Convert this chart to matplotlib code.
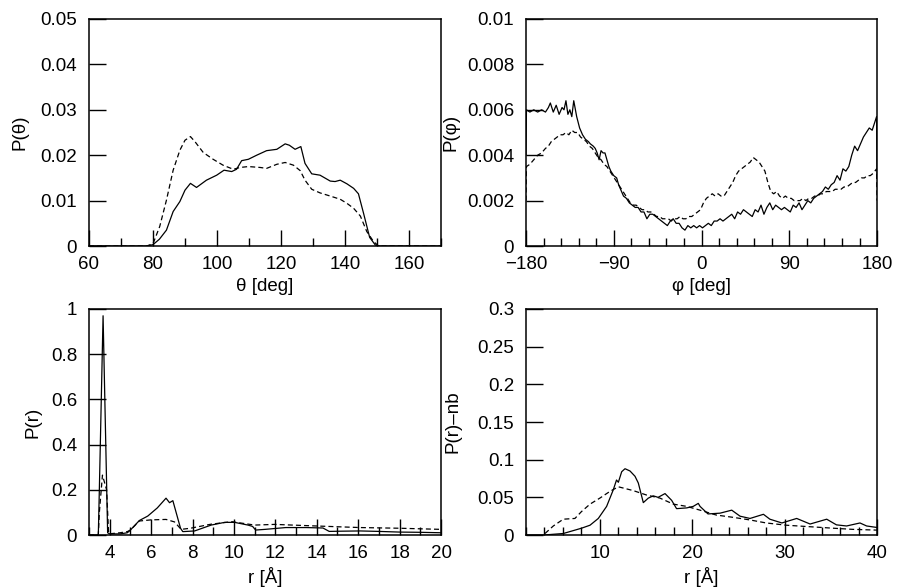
import matplotlib
matplotlib.use("Agg")
import matplotlib.pyplot as plt
from matplotlib.ticker import MultipleLocator, FuncFormatter

plt.rcParams["font.family"] = ["Liberation Sans", "DejaVu Sans"]
plt.rcParams["font.size"] = 13.5

# --- P(theta) ---
theta_solid = [60, 78, 80, 82, 84.2, 86.3, 88.4, 90, 91.7, 93.6, 96.7, 99.9, 102.2, 104.6,
               106.1, 107.7, 109.8, 112.4, 115.5, 118.7, 121.3, 122.6, 124.4, 126.2, 127.5,
               129.6, 132.2, 135.4, 136.9, 138.5, 140.6, 142.7, 144.2, 145.8, 147.7, 149.5,
               151, 170]
p_theta_solid = [0, 0, 0.0003, 0.0015, 0.0035, 0.0076, 0.0098, 0.0123, 0.0138, 0.0129, 0.0145,
                 0.0156, 0.0167, 0.0164, 0.0169, 0.0188, 0.0191, 0.0200, 0.0210, 0.0213, 0.0225,
                 0.0222, 0.0213, 0.0219, 0.0182, 0.0159, 0.0156, 0.0143, 0.0142, 0.0145, 0.0137,
                 0.0127, 0.0115, 0.0072, 0.0019, 0.0002, 0, 0]
theta_dash = [60, 78, 80, 82.1, 84.2, 86.3, 88.4, 90, 91.7, 93.1, 95.7, 98.8, 101.9, 105.1,
              107.2, 109.8, 113.5, 115.5, 118.7, 121.3, 123.9, 126, 127.5, 129.6, 132.2, 135.4,
              138.5, 140.6, 142.7, 144.8, 146.8, 148.9, 150.5, 170]
p_theta_dash = [0, 0, 0.0005, 0.0043, 0.0101, 0.0167, 0.0211, 0.0233, 0.0241, 0.0230, 0.0206,
                0.0191, 0.0178, 0.0169, 0.0173, 0.0175, 0.0173, 0.0171, 0.0180, 0.0184, 0.0178,
                0.0166, 0.0145, 0.0125, 0.0117, 0.0110, 0.0103, 0.0094, 0.0083, 0.0066, 0.0032,
                0.0010, 0, 0]

# --- P(phi) ---
phi_solid = [-180, -179.5, -176, -172, -168, -164, -160, -157, -155, -152, -149, -146, -143,
             -141, -139, -137, -135, -133, -131, -128, -125, -122, -119, -116, -114, -111,
             -109, -107, -105, -103, -101, -99, -97, -95, -93, -90, -87, -85, -83, -80, -77,
             -74, -71, -68, -65, -62, -59, -56, -53, -50, -47, -44, -41, -38, -35, -32, -29,
             -26, -23, -20, -17, -14, -11, -8, -5, -2, 1, 4, 7, 10, 13, 16, 19, 22, 25, 28,
             31, 34, 37, 40, 43, 46, 49, 52, 55, 58, 61, 64, 67, 70, 73, 76, 79, 82, 85, 88,
             91, 94, 97, 100, 103, 106, 109, 112, 115, 118, 121, 124, 127, 130, 133, 136, 139,
             142, 145, 148, 151, 154, 157, 160, 163, 166, 169, 172, 175, 178, 179.5, 180]
p_phi_solid = [0.0040, 0.0060, 0.0059, 0.0060, 0.0059, 0.0060, 0.0059, 0.0061, 0.0063, 0.0059,
               0.0062, 0.0058, 0.0061, 0.0060, 0.0064, 0.0058, 0.0060, 0.0057, 0.0064, 0.0057,
               0.0052, 0.0049, 0.0047, 0.0046, 0.0045, 0.0044, 0.0043, 0.0041, 0.0038, 0.0042,
               0.0041, 0.0041, 0.0038, 0.0035, 0.0033, 0.0031, 0.0030, 0.0027, 0.0025, 0.0022,
               0.0021, 0.0019, 0.0018, 0.0017, 0.0017, 0.0015, 0.0015, 0.0012, 0.0014, 0.0014,
               0.0013, 0.0012, 0.0011, 0.0010, 0.0009, 0.0011, 0.0012, 0.0010, 0.0010, 0.0008,
               0.0007, 0.0009, 0.0008, 0.0009, 0.0008, 0.0009, 0.0008, 0.0009, 0.0010, 0.0009,
               0.0011, 0.0011, 0.0012, 0.0011, 0.0012, 0.0013, 0.0014, 0.0012, 0.0015, 0.0014,
               0.0016, 0.0015, 0.0014, 0.0013, 0.0016, 0.0015, 0.0018, 0.0014, 0.0017, 0.0019,
               0.0016, 0.0018, 0.0017, 0.0016, 0.0017, 0.0016, 0.0015, 0.0018, 0.0017, 0.0019,
               0.0016, 0.0018, 0.0020, 0.0019, 0.0021, 0.0022, 0.0023, 0.0024, 0.0026, 0.0025,
               0.0027, 0.0028, 0.0031, 0.0029, 0.0034, 0.0033, 0.0035, 0.0040, 0.0044, 0.0042,
               0.0045, 0.0048, 0.0050, 0.0052, 0.0051, 0.0055, 0.0057, 0.0030]
phi_dash = [-180, -179.5, -176, -172, -168, -164, -160, -157, -154, -151, -148, -145, -142,
            -139, -136, -133, -130, -127, -124, -121, -118, -115, -112, -109, -106, -103, -100,
            -97, -94, -91, -88, -85, -82, -79, -76, -73, -70, -67, -64, -61, -58, -55, -52,
            -49, -46, -43, -40, -37, -34, -31, -28, -25, -22, -19, -16, -13, -10, -7, -4, -1,
            2, 5, 8, 11, 14, 17, 20, 23, 26, 29, 32, 35, 38, 41, 44, 47, 50, 53, 56, 59, 62,
            65, 68, 71, 74, 77, 80, 83, 86, 89, 92, 95, 98, 101, 104, 107, 110, 113, 116, 119,
            122, 125, 128, 131, 134, 137, 140, 143, 146, 149, 152, 155, 158, 161, 164, 167,
            170, 173, 176, 179.5, 180]
p_phi_dash = [0.0020, 0.0035, 0.0036, 0.0038, 0.0040, 0.0041, 0.0043, 0.0044, 0.0046, 0.0047,
              0.0048, 0.0049, 0.0049, 0.0050, 0.0049, 0.0051, 0.0050, 0.0050, 0.0048, 0.0047,
              0.0046, 0.0044, 0.0043, 0.0041, 0.0039, 0.0038, 0.0036, 0.0035, 0.0033, 0.0031,
              0.0029, 0.0027, 0.0025, 0.0023, 0.0021, 0.0019, 0.0018, 0.0018, 0.0017, 0.0016,
              0.0016, 0.0015, 0.0015, 0.0014, 0.0013, 0.0013, 0.0012, 0.0012, 0.0012, 0.0011,
              0.0012, 0.0012, 0.0013, 0.0012, 0.0012, 0.0013, 0.0013, 0.0014, 0.0015, 0.0016,
              0.0019, 0.0021, 0.0022, 0.0023, 0.0022, 0.0023, 0.0022, 0.0022, 0.0024, 0.0026,
              0.0028, 0.0031, 0.0033, 0.0034, 0.0035, 0.0036, 0.0037, 0.0039, 0.0038, 0.0037,
              0.0035, 0.0033, 0.0028, 0.0024, 0.0023, 0.0024, 0.0022, 0.0021, 0.0022, 0.0021,
              0.0021, 0.0020, 0.0020, 0.0020, 0.0021, 0.0020, 0.0021, 0.0021, 0.0022, 0.0022,
              0.0023, 0.0023, 0.0024, 0.0024, 0.0024, 0.0025, 0.0025, 0.0025, 0.0026, 0.0026,
              0.0027, 0.0028, 0.0028, 0.0029, 0.0030, 0.0030, 0.0031, 0.0031, 0.0032, 0.0034,
              0.0020]

# --- P(r) ---
r_solid = [3.0, 3.45, 3.5, 3.68, 3.9, 4.0, 4.5, 4.85, 5.0, 5.43, 5.84, 6.3, 6.72, 6.89, 7.05,
           7.42, 7.53, 8.1, 8.9, 9.55, 10.03, 10.68, 10.9, 11.05, 11.5, 12.5, 13.5, 14.3,
           14.6, 15.2, 16.1, 17.0, 18.0, 19.0, 20.0]
p_r_solid = [0, 0, 0.2, 0.97, 0.01, 0.005, 0.005, 0.01, 0.022, 0.064, 0.084, 0.12, 0.163,
             0.143, 0.152, 0.03, 0.015, 0.018, 0.044, 0.056, 0.056, 0.044, 0.038, 0.022, 0.025,
             0.033, 0.033, 0.031, 0.016, 0.017, 0.018, 0.016, 0.013, 0.012, 0.010]
r_dash = [3.0, 3.45, 3.5, 3.65, 3.85, 3.95, 4.5, 4.85, 5.0, 5.43, 6.0, 6.72, 7.13, 7.45, 7.9,
          8.9, 9.9, 11.0, 11.97, 13.97, 16.1, 18.0, 20.0]
p_r_dash = [0, 0, 0.1, 0.265, 0.2, 0.005, 0.01, 0.015, 0.022, 0.062, 0.067, 0.069, 0.058, 0.025,
            0.03, 0.048, 0.059, 0.044, 0.047, 0.040, 0.033, 0.030, 0.025]

# --- P(r)-nb ---
rnb_solid = [2.0, 3.9, 6.04, 8.0, 8.93, 9.83, 10.73, 11.45, 11.8, 12.0, 12.36, 12.72, 13.26,
             13.8, 14.16, 14.7, 15.24, 15.78, 16.3, 17.05, 17.77, 18.3, 19.4, 20.1, 20.65,
             20.84, 21.7, 23.0, 24.27, 25.17, 26.25, 27.7, 28.4, 29.7, 31.3, 32.75, 34.55,
             35.6, 36.7, 38.15, 38.87, 40.0]
p_rnb_solid = [0, 0, 0.002, 0.009, 0.013, 0.022, 0.038, 0.060, 0.073, 0.070, 0.084, 0.088,
               0.085, 0.078, 0.069, 0.043, 0.049, 0.052, 0.050, 0.055, 0.046, 0.035, 0.036,
               0.038, 0.042, 0.038, 0.028, 0.029, 0.033, 0.025, 0.022, 0.0275, 0.021, 0.016,
               0.022, 0.0146, 0.021, 0.0135, 0.012, 0.016, 0.012, 0.010]
rnb_dash = [4.06, 4.96, 6.04, 7.3, 8.0, 8.93, 10.0, 11.1, 12.0, 13.6, 15.07, 16.5, 17.95,
            19.4, 20.84, 22.6, 24.4, 26.25, 28.0, 30.2, 32.75, 35.3, 37.4, 40.0]
p_rnb_dash = [0.002, 0.012, 0.021, 0.022, 0.031, 0.041, 0.049, 0.058, 0.064, 0.059, 0.053,
              0.049, 0.041, 0.038, 0.033, 0.0265, 0.0235, 0.020, 0.016, 0.013, 0.011, 0.009,
              0.0075, 0.0065]


def fmt(v, pos):
    return ("%g" % round(v, 6)).replace("-", "\u2212")


fig = plt.figure(figsize=(8.98, 5.88), dpi=100)
ax1 = fig.add_axes([0.0991, 0.5816, 0.392, 0.3861])
ax2 = fig.add_axes([0.5857, 0.5816, 0.391, 0.3861])
ax3 = fig.add_axes([0.0991, 0.0901, 0.392, 0.3844])
ax4 = fig.add_axes([0.5857, 0.0901, 0.391, 0.3844])

dash = (0, (4, 2.5))
ax1.plot(theta_solid, p_theta_solid, color="black", lw=0.9)
ax1.plot(theta_dash, p_theta_dash, color="black", lw=0.9, linestyle=dash)
ax2.plot(phi_solid, p_phi_solid, color="black", lw=0.9)
ax2.plot(phi_dash, p_phi_dash, color="black", lw=0.9, linestyle=dash)
ax3.plot(r_solid, p_r_solid, color="black", lw=0.9)
ax3.plot(r_dash, p_r_dash, color="black", lw=0.9, linestyle=dash)
ax4.plot(rnb_solid, p_rnb_solid, color="black", lw=0.9)
ax4.plot(rnb_dash, p_rnb_dash, color="black", lw=0.9, linestyle=dash)

# axis, xlim, ylim, x major, x minor, y major, xlabel, ylabel, ylabel x-position
settings = [
    (ax1, (60, 170), (0, 0.05), 20, 10, 0.01, "\u03b8 [deg]", "P(\u03b8)", -0.173),
    (ax2, (-180, 180), (0, 0.01), 90, 18, 0.002, "\u03c6 [deg]", "P(\u03c6)", -0.19),
    (ax3, (3, 20), (0, 1), 2, 1, 0.2, "r [\u00c5]", "P(r)", -0.134),
    (ax4, (2, 40), (0, 0.3), 10, 2, 0.05, "r [\u00c5]", "P(r)\u2013nb", -0.185),
]
for ax, xl, yl, xmaj, xmin, ymaj, xlab, ylab, ylx in settings:
    ax.set_xlim(*xl)
    ax.set_ylim(*yl)
    ax.xaxis.set_major_locator(MultipleLocator(xmaj))
    ax.xaxis.set_minor_locator(MultipleLocator(xmin))
    ax.yaxis.set_major_locator(MultipleLocator(ymaj))
    ax.xaxis.set_major_formatter(FuncFormatter(fmt))
    ax.yaxis.set_major_formatter(FuncFormatter(fmt))
    ax.tick_params(axis="x", which="major", direction="in", length=11.5, width=1.0,
                   top=False, pad=7, labelsize=13.5)
    ax.tick_params(axis="x", which="minor", direction="in", length=5.8, width=1.0, top=False)
    ax.tick_params(axis="y", which="major", direction="in", length=12, width=1.0,
                   right=False, pad=8.5, labelsize=13.5)
    ax.tick_params(axis="y", which="minor", left=False, right=False)
    for s in ax.spines.values():
        s.set_linewidth(1.1)
    ax.set_xlabel(xlab, fontsize=13.5, labelpad=4)
    ax.set_ylabel(ylab, fontsize=13.5)
    ax.yaxis.set_label_coords(ylx, 0.5)

fig.savefig("out.png", dpi=100)
